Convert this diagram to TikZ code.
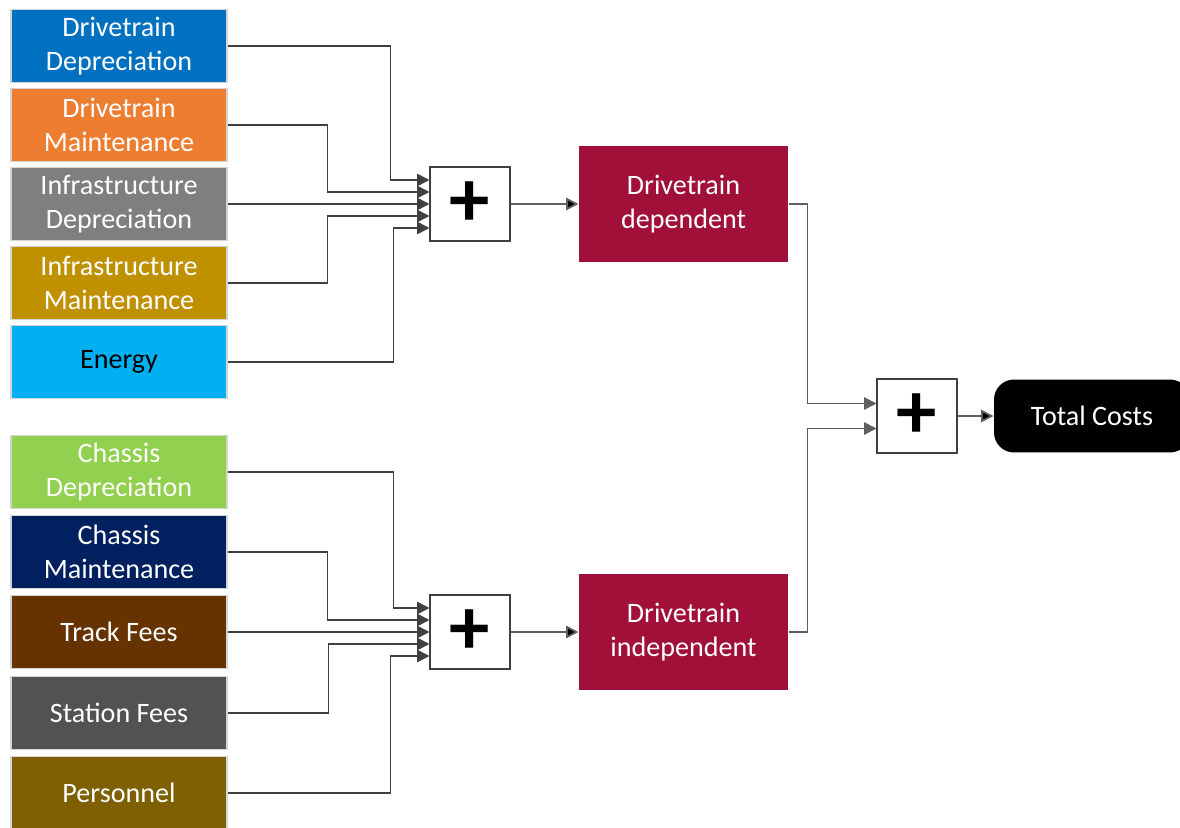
\documentclass[tikz,border=0pt]{standalone}
\usepackage{fontspec}
\setmainfont{Carlito}
\usepackage{tikz}
\usetikzlibrary{arrows.meta,calc}

\definecolor{dtdep}{HTML}{0070C0}
\definecolor{dtmain}{HTML}{ED7D31}
\definecolor{infdep}{HTML}{7F7F7F}
\definecolor{infmain}{HTML}{BF9000}
\definecolor{energy}{HTML}{00B0F0}
\definecolor{chdep}{HTML}{92D050}
\definecolor{chmain}{HTML}{002060}
\definecolor{track}{HTML}{663300}
\definecolor{station}{HTML}{525252}
\definecolor{personnel}{HTML}{7F6000}
\definecolor{groupred}{HTML}{A11038}
\definecolor{boxline}{HTML}{D4D4D4}
\definecolor{wire}{HTML}{404040}
\definecolor{wirelight}{HTML}{5F5F5F}

\begin{document}
\begin{tikzpicture}[x=0.02cm,y=-0.02cm,>={Triangle[length=7pt,width=7pt]},
                    semithick]
  \tikzstyle{cost}=[draw=boxline,line width=0.6pt,
  minimum width=4.32cm,minimum height=1.46cm,inner sep=0pt,
  align=center,text=white,font=\fontsize{16}{19.4}\selectfont]
  \tikzstyle{sum}=[draw=wire,fill=white,line width=0.6pt,
  minimum width=1.6cm,minimum height=1.48cm,inner sep=0pt,
  font=\fontsize{46}{46}\selectfont\bfseries]
  \tikzstyle{group}=[fill=groupred,minimum width=4.18cm,
  minimum height=2.32cm,inner sep=0pt,align=center,text=white,
  font=\fontsize{16}{19.4}\selectfont]
  \tikzstyle{conn}=[->,draw=wire,line width=1pt]

  \clip (0,0) rectangle (1180,828);

  % drivetrain dependent costs
  \node[cost,fill=dtdep]   (dtdep)   at (119,46)  {Drivetrain\\Depreciation};
  \node[cost,fill=dtmain]  (dtmain)  at (119,125) {Drivetrain\\Maintenance};
  \node[cost,fill=infdep]  (infdep)  at (119,204) {Infrastructure\\Depreciation};
  \node[cost,fill=infmain] (infmain) at (119,283) {Infrastructure\\Maintenance};
  \node[cost,fill=energy,text=black] (energy) at (119,362) {Energy};

  % drivetrain independent costs
  \node[cost,fill=chdep]     (chdep)     at (119,472) {Chassis\\Depreciation};
  \node[cost,fill=chmain]    (chmain)    at (119,552) {Chassis\\Maintenance};
  \node[cost,fill=track]     (track)     at (119,632) {Track Fees};
  \node[cost,fill=station]   (station)   at (119,713) {Station Fees};
  \node[cost,fill=personnel] (personnel) at (119,793) {Personnel};

  \node[sum] (sumdep)   at (470,204) {+};
  \node[sum] (sumindep) at (470,632) {+};
  \node[group] (dep)   at (683.5,204) {Drivetrain\\dependent};
  \node[group] (indep) at (683.5,632) {Drivetrain\\independent};
  \node[sum] (sumtotal) at (917,416) {+};
  \node[fill=black,rounded corners=0.4cm,minimum width=3.92cm,
        minimum height=1.46cm,text=white,
        font=\fontsize{16}{19.4}\selectfont] (total) at (1092,416) {Total Costs};

  \foreach \i/\dy in {1/-24,2/-12,3/0,4/12,5/24}{
    \coordinate (dep\i) at ($(sumdep.west)+(0,\dy)$);
    \coordinate (indep\i) at ($(sumindep.west)+(0,\dy)$);
  }
  \coordinate (tot1) at ($(sumtotal.west)+(0,-12.5)$);
  \coordinate (tot2) at ($(sumtotal.west)+(0,12.5)$);

  \draw[conn] (dtdep.east)   -- ++(163,0) |- (dep1);
  \draw[conn] (dtmain.east)  -- ++(100,0) |- (dep2);
  \draw[conn] (infdep.east)  -- (dep3);
  \draw[conn] (infmain.east) -- ++(100,0) |- (dep4);
  \draw[conn] (energy.east)  -- ++(166,0) |- (dep5);

  \draw[conn] (chdep.east)     -- ++(166,0) |- (indep1);
  \draw[conn] (chmain.east)    -- ++(100,0) |- (indep2);
  \draw[conn] (track.east)     -- (indep3);
  \draw[conn] (station.east)   -- ++(101,0) |- (indep4);
  \draw[conn] (personnel.east) -- ++(163,0) |- (indep5);

  \path[conn,draw=wirelight]
        (sumdep)   edge (dep)
        (sumindep) edge (indep)
        (sumtotal) edge (total);
  \draw[conn,draw=wirelight] (dep.east)   -- ++(19,0) |- (tot1);
  \draw[conn,draw=wirelight] (indep.east) -- ++(19,0) |- (tot2);
\end{tikzpicture}
\end{document}
